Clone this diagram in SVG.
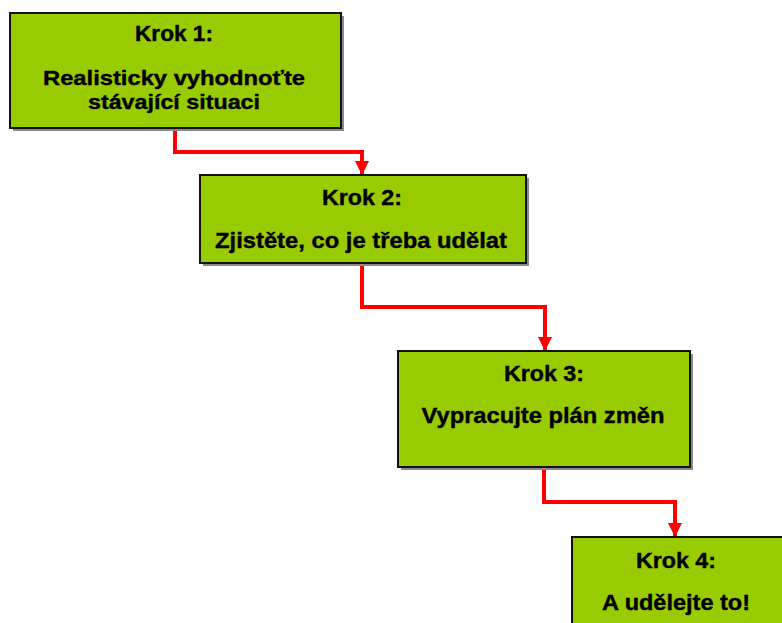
<svg xmlns="http://www.w3.org/2000/svg" width="782" height="623" viewBox="0 0 782 623">
  <defs>
    <style>
      .box { fill: #99cc00; stroke: #111111; stroke-width: 2; }
      .shadow { fill: #8a8a8a; }
      .label { font-family: "Liberation Sans", Arial, sans-serif; font-weight: bold; font-size: 22.5px; fill: #000000; stroke: #000000; stroke-width: 0.4; text-anchor: middle; }
      .tight { font-size: 20.5px; }
      .wire { fill: none; stroke: #ff0000; stroke-width: 4; stroke-linejoin: miter; }
    </style>
    <marker id="arrow" markerUnits="userSpaceOnUse" markerWidth="14" markerHeight="14" refX="14" refY="7" orient="auto">
      <path d="M0,0 L14,7 L0,14 Z" fill="#ff0000"/>
    </marker>
  </defs>
  <rect width="782" height="623" fill="#ffffff"/>

  <g id="connectors">
    <path class="wire" d="M175,129 V152 H362 V175" marker-end="url(#arrow)"/>
    <path class="wire" d="M362,264 V307 H545 V351" marker-end="url(#arrow)"/>
    <path class="wire" d="M544,468 V502 H675 V537" marker-end="url(#arrow)"/>
  </g>

  <g id="step1">
    <rect class="shadow" x="13" y="16" width="331" height="115"/>
    <rect class="box" x="10" y="13" width="331" height="115"/>
    <text class="label" x="174" y="41" textLength="78" lengthAdjust="spacingAndGlyphs">Krok 1:</text>
    <text class="label tight" x="174" y="85" textLength="262" lengthAdjust="spacingAndGlyphs">Realisticky vyhodnoťte</text>
    <text class="label tight" x="174" y="109" textLength="172" lengthAdjust="spacingAndGlyphs">stávající situaci</text>
  </g>

  <g id="step2">
    <rect class="shadow" x="203" y="178" width="326" height="88"/>
    <rect class="box" x="200" y="175" width="326" height="88"/>
    <text class="label" x="362" y="205" textLength="80" lengthAdjust="spacingAndGlyphs">Krok 2:</text>
    <text class="label" x="361" y="248" textLength="292" lengthAdjust="spacingAndGlyphs">Zjistěte, co je třeba udělat</text>
  </g>

  <g id="step3">
    <rect class="shadow" x="401" y="354" width="292" height="116"/>
    <rect class="box" x="398" y="351" width="292" height="116"/>
    <text class="label" x="544" y="381" textLength="80" lengthAdjust="spacingAndGlyphs">Krok 3:</text>
    <text class="label" x="543" y="423" textLength="243" lengthAdjust="spacingAndGlyphs">Vypracujte plán změn</text>
  </g>

  <g id="step4">
    <rect class="shadow" x="575" y="540" width="220" height="100"/>
    <rect class="box" x="572" y="537" width="220" height="100"/>
    <text class="label" x="676" y="568" textLength="80" lengthAdjust="spacingAndGlyphs">Krok 4:</text>
    <text class="label" x="676" y="610" textLength="148" lengthAdjust="spacingAndGlyphs">A udělejte to!</text>
  </g>
</svg>
